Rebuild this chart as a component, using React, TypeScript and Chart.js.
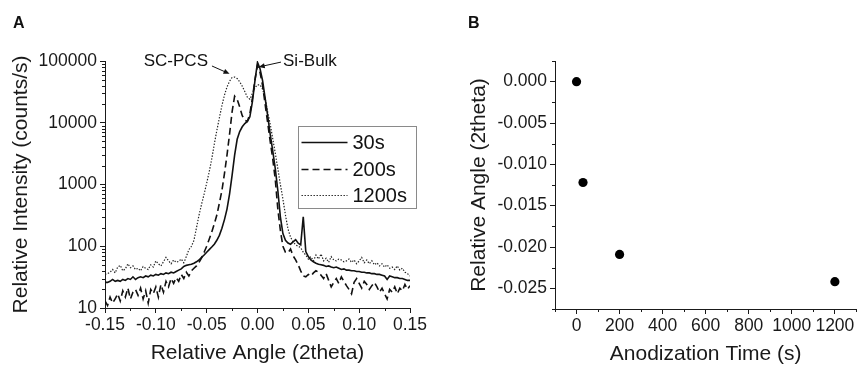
import React, { useEffect, useRef } from "react";
import { Chart, registerables } from "chart.js";
Chart.register(...registerables);

const FONT = "'Liberation Sans', Arial, Helvetica, sans-serif";
const INK = "#1a1a1a";

// ---------- Panel A data ----------
const angle = [
  -0.15, -0.1475, -0.145, -0.1425, -0.14, -0.1375, -0.135, -0.1325, -0.13, -0.1275,
  -0.125, -0.1225, -0.12, -0.1175, -0.115, -0.1125, -0.11, -0.1075, -0.105, -0.1025,
  -0.1, -0.0975, -0.095, -0.0925, -0.09, -0.0875, -0.085, -0.0825, -0.08, -0.0775,
  -0.075, -0.0725, -0.07, -0.0675, -0.065, -0.0625, -0.06, -0.0575, -0.055, -0.0525,
  -0.05, -0.0475, -0.045, -0.0425, -0.04, -0.0375, -0.035, -0.0325, -0.03, -0.0275,
  -0.025, -0.0225, -0.02, -0.0175, -0.015, -0.0125, -0.01, -0.0075, -0.005, -0.0025,
  0, 0.0025, 0.005, 0.0075, 0.01, 0.0125, 0.015, 0.0175, 0.02, 0.0225,
  0.025, 0.0275, 0.03, 0.0325, 0.035, 0.0375, 0.04, 0.0425, 0.045, 0.0475,
  0.05, 0.0525, 0.055, 0.0575, 0.06, 0.0625, 0.065, 0.0675, 0.07, 0.0725,
  0.075, 0.0775, 0.08, 0.0825, 0.085, 0.0875, 0.09, 0.0925, 0.095, 0.0975,
  0.1, 0.1025, 0.105, 0.1075, 0.11, 0.1125, 0.115, 0.1175, 0.12, 0.1225,
  0.125, 0.1275, 0.13, 0.1325, 0.135, 0.1375, 0.14, 0.1425, 0.145, 0.1475,
  0.15,
];

const intensity30s = [
  26, 26, 27, 29, 27, 28, 27, 29, 28, 30,
  29, 32, 29, 31, 32, 31, 33, 32, 34, 33,
  35, 34, 36, 35, 37, 36, 38, 37, 39, 41,
  43, 47, 49, 50, 51, 53, 56, 60, 66, 72,
  80, 88, 97, 108, 125, 150, 195, 270, 400, 700,
  1400, 3000, 5400, 7200, 8600, 9700, 10500, 12500, 22000, 48000,
  95000, 75000, 48000, 25000, 13000, 6500, 3500, 1800, 800, 300,
  160, 125, 113, 108, 118, 128, 112, 105, 300, 82,
  68, 60, 56, 53, 51, 50, 49, 47, 48, 46,
  45, 46, 44, 42, 43, 41, 41, 40, 40, 39,
  39, 38, 38, 37, 37, 36, 36, 35, 35, 34,
  33, 29, 33, 32, 31, 31, 30, 30, 29, 28,
  28,
];

const intensity200s = [
  13, 11, 15, 12, 14, 17, 13, 19, 15, 21,
  14, 18, 20, 16, 21, 14, 19, 12, 20, 17,
  22, 15, 24, 18, 27, 22, 30, 25, 31, 27,
  35, 30, 38, 33, 40, 44, 48, 55, 65, 80,
  100, 130, 170, 230, 320, 500, 800, 1500, 3000, 6500,
  15000, 27000, 24000, 18000, 13000, 11000, 10500, 14000, 25000, 50000,
  85000, 65000, 40000, 20000, 10000, 5000, 2600, 1200, 400, 180,
  100, 80, 78, 90, 70, 60, 50, 40, 33, 32,
  35, 33, 37, 40, 38, 34, 30, 36, 28, 22,
  26, 30, 25, 32, 27, 23, 20, 17, 26, 30,
  25, 21, 27, 24, 20, 23, 26, 22, 18, 21,
  17, 14, 20, 18, 22, 17, 21, 19, 24, 20,
  23,
];

const intensity1200s = [
  35, 36, 38, 42, 37, 46, 49, 40, 43, 52,
  45, 48, 42, 44, 40, 47, 44, 42, 50, 46,
  58, 52, 48, 56, 66, 58, 52, 60, 55, 57,
  62, 54, 68, 88, 100, 125, 200, 320, 480, 700,
  1050, 1600, 2600, 4500, 7500, 12000, 19000, 28000, 38000, 47000,
  54000, 55000, 52000, 46000, 39000, 32000, 26000, 24000, 30000, 37000,
  41000, 41000, 35000, 25000, 15000, 9500, 5500, 3200, 1800, 1000,
  580, 320, 190, 140, 118, 105, 100, 95, 80, 72,
  62, 68, 58, 72, 62, 75, 58, 64, 55, 68,
  60, 58, 62, 60, 56, 58, 62, 55, 60, 52,
  58, 66, 54, 60, 52, 58, 50, 54, 48, 52,
  46, 50, 44, 46, 42, 48, 41, 44, 38, 36,
  33,
];

const seriesNames = ["30s", "200s", "1200s"];
const xTicksA = [-0.15, -0.1, -0.05, 0, 0.05, 0.1, 0.15];
const xMinorA = [-0.125, -0.075, -0.025, 0.025, 0.075, 0.125];
const yTicksA = [10, 100, 1000, 10000, 100000];
const yDecadesMinorA = [10, 100, 1000, 10000];
const yMultipliersMinor = [2, 3, 4, 5, 6, 7, 8, 9];

// annotation anchors in data units: text anchor, arrow start, arrow tip
const annSCPCS = { text: "SC-PCS", tx: -0.0487, ty: 100000, ax: -0.0448, ay: 83000, bx: -0.0275, by: 62000 };
const annSiBulk = { text: "Si-Bulk", tx: 0.0251, ty: 100000, ax: 0.0231, ay: 96000, bx: 0.0012, by: 80000 };

// ---------- Panel B data ----------
const anodizationTime = [0, 30, 200, 1200];
const relativeAngle = [0.0, -0.0122, -0.0209, -0.0242];
const xTicksB = [0, 200, 400, 600, 800, 1000, 1200];
const xMinorB = [-100, 100, 300, 500, 700, 900, 1100, 1300];
const yTicksB = [0, -0.005, -0.01, -0.015, -0.02, -0.025];
const yMinorB = [0.0025, -0.0025, -0.0075, -0.0125, -0.0175, -0.0225, -0.0275];

const seriesStyles = [
  { borderDash: [] as number[], borderWidth: 1.6, borderColor: "#111" },
  { borderDash: [7, 4], borderWidth: 1.6, borderColor: "#111" },
  { borderDash: [1.4, 1.6], borderWidth: 1.2, borderColor: "#222" },
];

function minorTicks(xMinor: number[], yMinor: number[]) {
  return {
    id: "minorTicks",
    afterDraw(chart: any) {
      const { ctx, chartArea, scales } = chart;
      ctx.save();
      ctx.strokeStyle = INK;
      ctx.lineWidth = 1;
      ctx.beginPath();
      for (const v of xMinor) {
        const px = Math.round(scales.x.getPixelForValue(v)) + 0.5;
        ctx.moveTo(px, chartArea.bottom);
        ctx.lineTo(px, chartArea.bottom + 3);
      }
      for (const v of yMinor) {
        const py = Math.round(scales.y.getPixelForValue(v)) + 0.5;
        ctx.moveTo(chartArea.left, py);
        ctx.lineTo(chartArea.left - 3, py);
      }
      ctx.stroke();
      ctx.restore();
    },
  };
}

function arrow(ctx: CanvasRenderingContext2D, x1: number, y1: number, x2: number, y2: number) {
  const ang = Math.atan2(y2 - y1, x2 - x1);
  const hl = 6;
  const hw = 2.6;
  ctx.beginPath();
  ctx.moveTo(x1, y1);
  ctx.lineTo(x2 - Math.cos(ang) * hl * 0.8, y2 - Math.sin(ang) * hl * 0.8);
  ctx.stroke();
  ctx.beginPath();
  ctx.moveTo(x2, y2);
  ctx.lineTo(x2 - Math.cos(ang) * hl - Math.sin(ang) * hw, y2 - Math.sin(ang) * hl + Math.cos(ang) * hw);
  ctx.lineTo(x2 - Math.cos(ang) * hl + Math.sin(ang) * hw, y2 - Math.sin(ang) * hl - Math.cos(ang) * hw);
  ctx.closePath();
  ctx.fill();
}

const decorA = {
  id: "decorA",
  afterDraw(chart: any) {
    const { ctx, chartArea, scales } = chart;
    ctx.save();
    ctx.fillStyle = "#111";
    ctx.font = `bold 16px ${FONT}`;
    ctx.textBaseline = "alphabetic";
    ctx.textAlign = "left";
    ctx.fillText("A", 13, 28);

    // annotations
    ctx.font = `17px ${FONT}`;
    ctx.textBaseline = "middle";
    ctx.strokeStyle = "#111";
    ctx.lineWidth = 1;
    for (const a of [annSCPCS, annSiBulk]) {
      const tx = scales.x.getPixelForValue(a.tx);
      const ty = scales.y.getPixelForValue(a.ty);
      ctx.textAlign = a === annSCPCS ? "right" : "left";
      ctx.fillStyle = "#111";
      ctx.fillText(a.text, tx, ty);
      arrow(
        ctx,
        scales.x.getPixelForValue(a.ax),
        scales.y.getPixelForValue(a.ay),
        scales.x.getPixelForValue(a.bx),
        scales.y.getPixelForValue(a.by)
      );
    }

    // legend box
    const bx = chartArea.left + 193.5;
    const by = chartArea.top + 65.5;
    const bw = 118;
    const bh = 82;
    ctx.fillStyle = "#fff";
    ctx.fillRect(bx, by, bw, bh);
    ctx.strokeStyle = "#8a8a8a";
    ctx.lineWidth = 1;
    ctx.setLineDash([]);
    ctx.strokeRect(bx, by, bw, bh);
    const rows = [16, 43, 69];
    chart.data.datasets.forEach((ds: any, k: number) => {
      const y = by + rows[k];
      ctx.strokeStyle = ds.borderColor;
      ctx.lineWidth = ds.borderWidth;
      ctx.setLineDash(ds.borderDash);
      ctx.beginPath();
      ctx.moveTo(bx + 3, y);
      ctx.lineTo(bx + 49, y);
      ctx.stroke();
      ctx.setLineDash([]);
      ctx.fillStyle = "#111";
      ctx.font = `20px ${FONT}`;
      ctx.textAlign = "left";
      ctx.textBaseline = "middle";
      ctx.fillText(ds.label, bx + 54, y + 1);
    });
    ctx.restore();
  },
};

const decorB = {
  id: "decorB",
  afterDraw(chart: any) {
    const { ctx } = chart;
    ctx.save();
    ctx.fillStyle = "#111";
    ctx.font = `bold 16px ${FONT}`;
    ctx.textBaseline = "alphabetic";
    ctx.textAlign = "left";
    ctx.fillText("B", 38, 28);
    ctx.restore();
  },
};

const axisGrid = {
  display: true,
  drawOnChartArea: false,
  drawTicks: true,
  tickLength: 5,
  color: INK,
  tickWidth: 1,
};
const axisBorder = { display: true, color: INK, width: 1 };
const tickFont = { family: FONT, size: 17.5 };
const titleFont = { family: FONT, size: 21 };

function makeConfigA(): any {
  const minorY: number[] = [];
  yDecadesMinorA.forEach((d) => yMultipliersMinor.forEach((m) => minorY.push(d * m)));
  return {
    type: "scatter",
    data: {
      datasets: [intensity30s, intensity200s, intensity1200s].map((arr, k) => ({
        label: seriesNames[k],
        data: angle.map((x, i) => ({ x, y: arr[i] })),
        showLine: true,
        pointRadius: 0,
        pointHoverRadius: 0,
        fill: false,
        tension: 0,
        ...seriesStyles[k],
      })),
    },
    options: {
      animation: false,
      responsive: false,
      devicePixelRatio: 1,
      layout: { padding: { top: 61, right: 20, left: 0, bottom: 0 } },
      plugins: { legend: { display: false }, tooltip: { enabled: false } },
      scales: {
        x: {
          type: "linear",
          min: -0.15,
          max: 0.15,
          afterBuildTicks: (s: any) => {
            s.ticks = xTicksA.map((v) => ({ value: v }));
          },
          afterFit: (s: any) => {
            s.height = 59;
          },
          ticks: {
            callback: (v: any) => Number(v).toFixed(2),
            font: tickFont,
            color: INK,
            padding: 2,
            maxRotation: 0,
            autoSkip: false,
          },
          grid: axisGrid,
          border: axisBorder,
          title: {
            display: true,
            text: "Relative Angle (2theta)",
            font: titleFont,
            color: INK,
            padding: { top: 0, bottom: 1 },
          },
        },
        y: {
          type: "logarithmic",
          min: 10,
          max: 100000,
          afterBuildTicks: (s: any) => {
            s.ticks = yTicksA.map((v) => ({ value: v, major: true }));
          },
          afterFit: (s: any) => {
            s.width = 105;
          },
          ticks: {
            callback: (v: any) => String(v),
            font: tickFont,
            color: INK,
            padding: 3,
            autoSkip: false,
          },
          grid: axisGrid,
          border: axisBorder,
          title: {
            display: true,
            text: "Relative Intensity (counts/s)",
            font: titleFont,
            color: INK,
            padding: { top: 9, bottom: 0 },
          },
        },
      },
    },
    plugins: [minorTicks(xMinorA, minorY), decorA],
  };
}

function makeConfigB(): any {
  return {
    type: "scatter",
    data: {
      datasets: [
        {
          label: "shift",
          data: anodizationTime.map((x, i) => ({ x, y: relativeAngle[i] })),
          pointRadius: 4.6,
          pointHoverRadius: 4.6,
          pointBackgroundColor: "#000",
          pointBorderWidth: 0,
          showLine: false,
        },
      ],
    },
    options: {
      animation: false,
      responsive: false,
      devicePixelRatio: 1,
      layout: { padding: { top: 61, right: 1, left: 0, bottom: 0 } },
      plugins: { legend: { display: false }, tooltip: { enabled: false } },
      scales: {
        x: {
          type: "linear",
          min: -100,
          max: 1300,
          afterBuildTicks: (s: any) => {
            s.ticks = xTicksB.map((v) => ({ value: v }));
          },
          afterFit: (s: any) => {
            s.height = 58;
          },
          ticks: {
            callback: (v: any) => String(v),
            font: tickFont,
            color: INK,
            padding: 2,
            maxRotation: 0,
            autoSkip: false,
          },
          grid: axisGrid,
          border: axisBorder,
          title: {
            display: true,
            text: "Anodization Time (s)",
            font: titleFont,
            color: INK,
            padding: { top: 0, bottom: 0 },
          },
        },
        y: {
          type: "linear",
          min: -0.0275,
          max: 0.0025,
          afterBuildTicks: (s: any) => {
            s.ticks = yTicksB.map((v) => ({ value: v }));
          },
          afterFit: (s: any) => {
            s.width = 125;
          },
          ticks: {
            callback: (v: any) => Number(v).toFixed(3),
            font: tickFont,
            color: INK,
            padding: 3,
            autoSkip: false,
          },
          grid: axisGrid,
          border: axisBorder,
          title: {
            display: true,
            text: "Relative Angle (2theta)",
            font: titleFont,
            color: INK,
            padding: { top: 37, bottom: 0 },
          },
        },
      },
    },
    plugins: [minorTicks(xMinorB, yMinorB), decorB],
  };
}

export default function App() {
  const refA = useRef<HTMLCanvasElement>(null);
  const refB = useRef<HTMLCanvasElement>(null);
  useEffect(() => {
    const a = new Chart(refA.current as HTMLCanvasElement, makeConfigA());
    const b = new Chart(refB.current as HTMLCanvasElement, makeConfigB());
    return () => {
      a.destroy();
      b.destroy();
    };
  }, []);
  return (
    <div style={{ position: "absolute", left: 0, top: 0, width: 861, height: 367, background: "#fff" }}>
      <canvas
        ref={refA}
        width={430}
        height={367}
        style={{ position: "absolute", left: 0, top: 0, width: 430, height: 367 }}
      />
      <canvas
        ref={refB}
        width={431}
        height={367}
        style={{ position: "absolute", left: 430, top: 0, width: 431, height: 367 }}
      />
    </div>
  );
}
